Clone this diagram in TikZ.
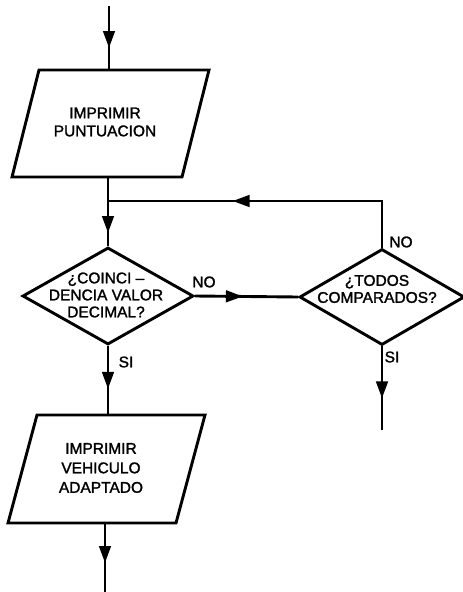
\documentclass[tikz,border=0pt]{standalone}
\usepackage{fontspec}
\setmainfont{Liberation Sans}[FakeBold=1.6]
\usetikzlibrary{shapes.geometric,arrows.meta,decorations.markings}
\begin{document}
\begin{tikzpicture}[x=1pt,y=-1pt,
  line width=2.9pt,
  every node/.style={font=\fontsize{15.5}{18}\selectfont},
  iobox/.style={rectangle, inner sep=0pt, outer sep=0pt},
  decision/.style={diamond, draw, inner sep=0pt},
  caption/.style={align=center, inner sep=0pt},
  tag/.style={inner sep=0pt},
  arrowat/.style={postaction={decorate}, decoration={markings,
    mark=at position #1 with {\arrow{Triangle[length=17pt,width=11.5pt]}}}},
]
\useasboundingbox (0,0) rectangle (463,592);

% output boxes: a rectangle frame drawn as a slanted parallelogram
\node[iobox, minimum width=170pt, minimum height=107pt] (p1) at (110.5,123.5) {};
\draw ([xshift=13.5pt]p1.north west) -- ([xshift=13.5pt]p1.north east)
   -- ([xshift=-13.5pt]p1.south east) -- ([xshift=-13.5pt]p1.south west) -- cycle;
\node[caption] (t1) at (105,122) {IMPRIMIR\\PUNTUACION};

\node[iobox, minimum width=168pt, minimum height=108pt] (p2) at (106.5,469) {};
\draw ([xshift=14.5pt]p2.north west) -- ([xshift=14.5pt]p2.north east)
   -- ([xshift=-14.5pt]p2.south east) -- ([xshift=-14.5pt]p2.south west) -- cycle;
\node[caption, font=\fontsize{15.5}{19.5}\selectfont] (t2) at (101,468) {IMPRIMIR\\VEHICULO\\ADAPTADO};

% decisions
\node[decision, minimum width=171pt, minimum height=97pt] (d1) at (108,296) {};
\node[caption, font=\fontsize{15.5}{17}\selectfont] (t3) at (106,295) {¿COINCI –\\DENCIA VALOR\\DECIMAL?};

\node[decision, minimum width=165pt, minimum height=96pt] (d2) at (382,297) {};
\node[caption, font=\fontsize{15.5}{17}\selectfont] (t4) at (377,289) {¿TODOS\\COMPARADOS?};

% branch labels
\node[tag] (no1) at (204,282) {NO};
\node[tag] (no2) at (401,242) {NO};
\node[tag] (si1) at (126,362) {SI};
\node[tag] (si2) at (392,357) {SI};

% free ends and bends
\coordinate (in) at (109,6);
\coordinate (j) at (108,201);
\coordinate (loop) at (382,201);
\coordinate (yes2) at (382,430);
\coordinate (out) at (105,592);

% connectors
\draw[arrowat=42pt] (in) -- (in |- p1.north);
\draw[arrowat=56pt] (j |- p1.south) -- (d1.north);
\draw[arrowat=196pt] (d2.north) -- (loop) -- (j);
\draw[arrowat=48pt] (d1.east) -- (d2.west);
\draw[arrowat=52pt] (d2.south) -- (yes2);
\draw[arrowat=43pt] (d1.south) -- (d1.south |- p2.north);
\draw[arrowat=40pt] (out |- p2.south) -- (out);
\end{tikzpicture}
\end{document}
